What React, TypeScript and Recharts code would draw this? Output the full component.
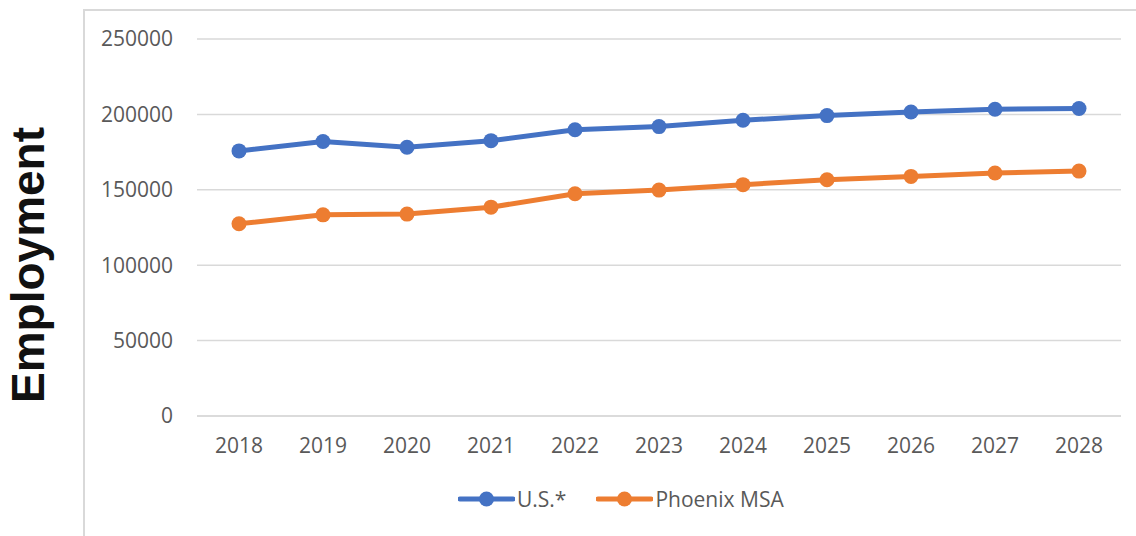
import React from 'react';
import { LineChart, Line, XAxis, YAxis, CartesianGrid, Legend } from 'recharts';

const years = ['2018', '2019', '2020', '2021', '2022', '2023', '2024', '2025', '2026', '2027', '2028'];
const usValues = [175800, 182000, 178200, 182600, 189800, 191900, 196100, 199200, 201600, 203400, 203900];
const phoenixValues = [127500, 133400, 133900, 138500, 147400, 149800, 153400, 156700, 158900, 161100, 162400];
const yTicks = [0, 50000, 100000, 150000, 200000, 250000];
const seriesOrder = ['us', 'phoenix'];

const data = years.map((year, i) => ({ year, us: usValues[i], phoenix: phoenixValues[i] }));

const tickFont = { fontFamily: '"Open Sans", sans-serif', fontSize: 21, fill: '#595959' };

const EmploymentLabel = () => (
  <text
    x={28}
    y={265}
    transform="rotate(-90 28 265)"
    textAnchor="middle"
    dominantBaseline="central"
    style={{ fontFamily: '"Liberation Sans", Arial, sans-serif', fontSize: 46, fontWeight: 700, fill: '#111' }}
  >
    Employment
  </text>
);

const LegendContent = (props: any) => {
  const payload = [...(props.payload || [])].sort(
    (a: any, b: any) => seriesOrder.indexOf(a.dataKey) - seriesOrder.indexOf(b.dataKey)
  );
  return (
    <div style={{ height: 40, display: 'flex', alignItems: 'center', paddingLeft: 458 }}>
      {payload.map((entry: any) => (
        <div key={entry.value} style={{ display: 'flex', alignItems: 'center', marginRight: 30 }}>
          <svg width={57} height={16}>
            <line x1={2} y1={8} x2={55} y2={8} stroke={entry.color} strokeWidth={5} strokeLinecap="round" />
            <circle cx={28.5} cy={8} r={7.5} fill={entry.color} />
          </svg>
          <span style={{ fontFamily: '"Open Sans", sans-serif', fontSize: 21, color: '#595959', marginLeft: 2 }}>
            {entry.value}
          </span>
        </div>
      ))}
    </div>
  );
};

export default function App() {
  return (
    <div style={{ position: 'absolute', left: 0, top: 0, width: 1136, height: 536, background: '#fff', overflow: 'hidden' }}>
      <div
        style={{
          position: 'absolute',
          left: 83,
          top: 9,
          width: 1100,
          height: 600,
          borderLeft: '2px solid #d9d9d9',
          borderTop: '2px solid #d9d9d9',
        }}
      />
      <div style={{ position: 'absolute', left: 0, top: 0 }}>
        <LineChart width={1136} height={536} data={data} margin={{ top: 39, right: 15, bottom: 17, left: 0 }}>
          <CartesianGrid vertical={false} stroke="#d9d9d9" strokeWidth={1.5} />
          <XAxis
            dataKey="year"
            padding={{ left: 42, right: 42 }}
            height={63}
            axisLine={{ stroke: '#d9d9d9', strokeWidth: 1.5 }}
            tickLine={false}
            tickSize={0}
            tickMargin={22}
            tick={tickFont}
          />
          <YAxis
            width={197}
            domain={[0, 250000]}
            ticks={yTicks}
            axisLine={false}
            tickLine={false}
            tickSize={0}
            tickMargin={24}
            tick={tickFont}
            label={<EmploymentLabel />}
          />
          <Legend verticalAlign="bottom" wrapperStyle={{ left: 0, width: 1136 }} content={<LegendContent />} />
          <Line
            dataKey="us"
            name="U.S.*"
            stroke="#4472C4"
            strokeWidth={5}
            dot={{ r: 7.5, fill: '#4472C4', stroke: 'none' }}
            activeDot={false}
            isAnimationActive={false}
          />
          <Line
            dataKey="phoenix"
            name="Phoenix MSA"
            stroke="#ED7D31"
            strokeWidth={5}
            dot={{ r: 7.5, fill: '#ED7D31', stroke: 'none' }}
            activeDot={false}
            isAnimationActive={false}
          />
        </LineChart>
      </div>
    </div>
  );
}
